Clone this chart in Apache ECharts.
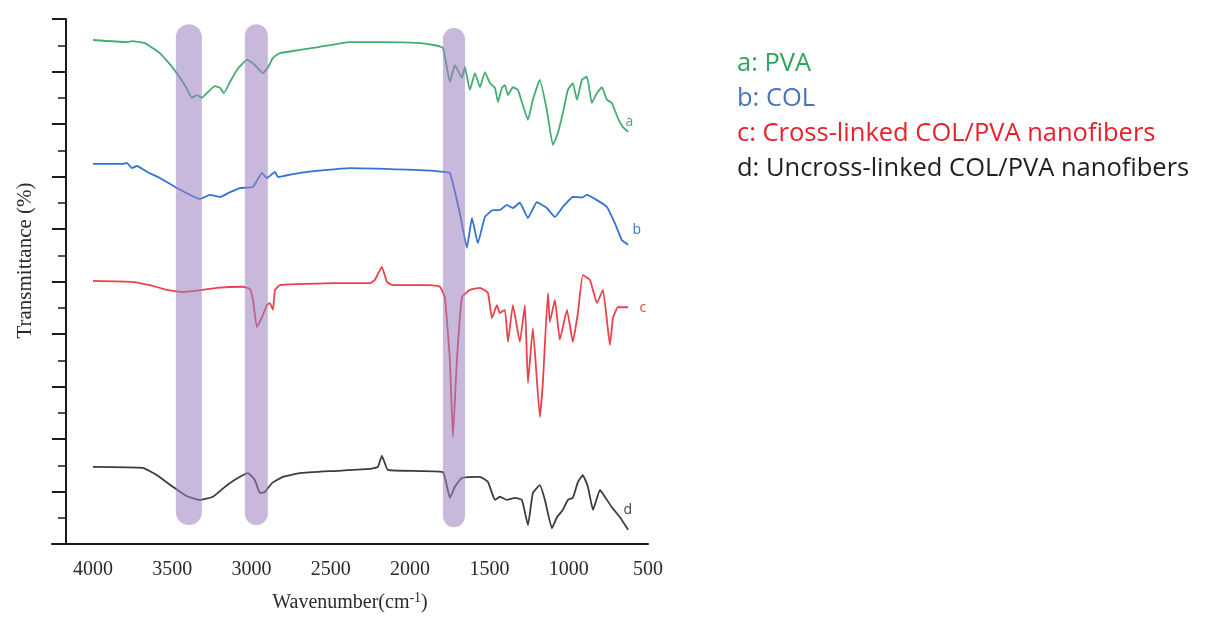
<!DOCTYPE html>
<html>
<head>
<meta charset="utf-8">
<script src="https://cdn.jsdelivr.net/npm/echarts@6/dist/echarts.min.js"></script>
<style>html,body{margin:0;padding:0;background:#fff;overflow:hidden;}#main{width:1218px;height:617px;}</style>
</head>
<body>
<div id="main"></div>
<script>
// ---- Data (wavenumber cm-1, transmittance offset in %) ----
const xTickLabels = [4000, 3500, 3000, 2500, 2000, 1500, 1000, 500];

const waveA = [4000,3786,3754,3672,3578,3496,3420,3376,3344,3313,3275,3231,3199,3174,3136,3092,3029,2991,2928,2897,2865,2821,2695,2569,2380,2190,1938,1844,1793,1749,1718,1673,1655,1623,1591,1560,1528,1497,1465,1446,1421,1402,1383,1352,1320,1257,1226,1182,1138,1100,1068,1037,1005,974,948,917,885,854,822,791,759,728,690,658,625];
const transA = [96.0,95.6,95.8,95.4,93.5,90.7,87.4,85.0,85.5,85.0,86.1,87.2,86.9,85.9,88.0,90.3,92.2,91.6,89.7,90.7,92.6,93.5,94.1,94.7,95.6,95.6,95.4,95.0,94.5,88.0,91.2,88.8,90.9,86.5,89.7,87.0,89.9,87.8,86.9,84.2,86.9,87.4,85.5,87.0,86.5,80.8,84.6,88.4,82.7,76.0,78.3,82.1,86.5,87.8,84.6,88.4,89.0,84.0,85.9,87.0,84.6,84.0,81.1,79.4,78.5];

const waveB = [4000,3811,3786,3754,3723,3660,3578,3470,3325,3262,3199,3136,3073,2991,2934,2903,2852,2834,2695,2380,1938,1793,1749,1686,1642,1610,1573,1528,1478,1434,1390,1352,1308,1257,1201,1138,1087,1037,974,917,885,822,759,709,665,625];
const transB = [72.4,72.4,72.6,71.6,72.0,70.9,69.7,67.8,65.7,66.5,66.1,67.0,67.8,68.0,70.7,69.7,70.9,69.9,70.7,71.6,71.2,70.9,70.7,63.0,56.4,62.1,57.3,62.3,63.6,63.6,64.6,64.0,65.0,62.1,65.1,64.0,62.3,64.2,66.1,66.0,66.5,65.5,64.2,61.1,57.9,57.0];

const waveC = [4000,3748,3641,3533,3433,3218,3054,3010,2991,2966,2934,2903,2884,2865,2852,2821,2695,2487,2253,2222,2178,2146,2108,1938,1875,1812,1781,1749,1730,1705,1673,1623,1560,1509,1484,1453,1434,1402,1383,1352,1308,1276,1257,1226,1182,1163,1131,1119,1087,1056,1011,974,942,911,866,822,784,740,721,690,625];
const transC = [50.1,49.9,49.3,48.4,48.0,48.8,49.0,48.6,46.5,41.3,43.2,45.5,45.9,44.6,48.4,49.3,49.5,49.7,49.7,50.3,52.8,49.9,49.3,49.3,49.3,49.0,47.0,35.0,20.4,35.0,47.0,48.4,48.8,47.8,43.0,45.5,44.0,44.6,38.5,45.5,38.5,45.5,30.7,41.1,24.2,30.7,47.8,42.3,46.5,38.9,44.6,38.5,44.0,51.2,50.3,45.9,48.4,37.9,43.0,45.1,45.1];

const waveD = [4000,3685,3596,3496,3407,3325,3243,3155,3073,3023,2979,2947,2916,2871,2802,2695,2487,2253,2203,2178,2140,1938,1793,1749,1718,1673,1560,1509,1465,1434,1390,1339,1295,1257,1226,1182,1150,1106,1074,1037,1005,974,942,911,879,847,803,772,728,677,625];
const transD = [14.7,14.5,13.1,10.9,9.1,8.4,9.0,11.2,12.8,13.5,12.2,9.7,9.9,11.6,12.8,13.5,13.9,14.3,14.7,16.8,14.1,13.9,13.7,8.8,10.9,12.6,12.8,11.8,8.4,9.0,8.4,8.8,8.4,3.6,9.7,11.2,8.4,3.0,5.1,6.5,8.4,8.8,11.8,13.1,10.9,6.5,10.3,9.0,7.0,5.1,2.7];

// Highlight bands: [high wavenumber, low wavenumber, top, bottom]
const bands = [
  [3477, 3313, 99.0, 3.6],
  [3042, 2897, 99.0, 3.6],
  [1793, 1654, 98.3, 3.2]
];

const seriesNames = ['a: PVA', 'b: COL', 'c: Cross-linked COL/PVA nanofibers', 'd: Uncross-linked COL/PVA nanofibers'];
const endTags = ['a', 'b', 'c', 'd'];
const lineColors = ['#45ad72', '#3472d4', '#e8424c', '#3c3c3c'];
const legendColors = ['#2fa45c', '#4d72b8', '#e8212b', '#1f1f1f'];

const zip = (w, t) => w.map((v, i) => [v, t[i]]);
const allData = [zip(waveA, transA), zip(waveB, transB), zip(waveC, transC), zip(waveD, transD)];
const tagOffsets = [[7, -10], [15, -15], [20, 1], [6, -20]];

const dom = document.getElementById('main');
const chart = echarts.init(dom, null, {renderer: 'canvas', width: 1218, height: 617});

const lineSeries = allData.map((d, i) => ({
  name: seriesNames[i],
  type: 'line',
  data: d,
  showSymbol: false,
  smooth: 0.12,
  lineStyle: {color: lineColors[i], width: 1.8},
  itemStyle: {color: lineColors[i]},
  z: 2,
  animation: false,
  endLabel: {
    show: true,
    formatter: endTags[i],
    color: lineColors[i],
    fontFamily: 'Open Sans',
    fontSize: 14,
    distance: 2,
    offset: tagOffsets[i]
  }
}));

const bandSeries = {
  type: 'custom',
  name: 'bands',
  data: bands,
  z: 5,
  animation: false,
  silent: true,
  renderItem: function (params, api) {
    const p1 = api.coord([api.value(0), api.value(2)]);
    const p2 = api.coord([api.value(1), api.value(3)]);
    const x = Math.min(p1[0], p2[0]);
    const y = Math.min(p1[1], p2[1]);
    const w = Math.abs(p2[0] - p1[0]);
    const h = Math.abs(p2[1] - p1[1]);
    return {
      type: 'rect',
      shape: {x: x, y: y, width: w, height: h, r: w / 2},
      style: {fill: 'rgba(155,125,190,0.55)'}
    };
  }
};

const legendText = seriesNames.map((n, i) => '{s' + i + '|' + n + '}').join('\n');
const rich = {};
legendColors.forEach((c, i) => {
  rich['s' + i] = {color: c, fontSize: 25.5, fontWeight: 'normal', fontFamily: 'Open Sans', lineHeight: 35};
});

chart.setOption({
  backgroundColor: '#ffffff',
  animation: false,
  title: {
    text: legendText,
    left: 737,
    top: 46,
    padding: 0,
    textStyle: {fontWeight: 'normal', rich: rich}
  },
  grid: {left: 52, width: 596, top: 19, height: 525, containLabel: false, outerBoundsMode: 'none'},
  xAxis: {
    type: 'value',
    inverse: true,
    min: 500,
    max: 4258,
    interval: 500,
    name: '{t|Wavenumber(cm}{u|-1}{t|)}',
    nameLocation: 'middle',
    nameGap: 47,
    nameTextStyle: {
      rich: {
        t: {fontFamily: 'Liberation Serif', fontSize: 20, color: '#2a2a2a'},
        u: {fontFamily: 'Liberation Serif', fontSize: 14, color: '#2a2a2a', padding: [0, 0, 10, 0]}
      }
    },
    axisLine: {show: true, lineStyle: {color: '#1a1a1a', width: 2}},
    axisTick: {show: false},
    splitLine: {show: false},
    axisLabel: {
      margin: 16,
      fontFamily: 'Liberation Serif',
      fontSize: 20,
      color: '#2a2a2a',
      showMinLabel: true,
      showMaxLabel: false,
      formatter: v => xTickLabels.indexOf(v) >= 0 ? String(v) : ''
    }
  },
  yAxis: {
    type: 'value',
    min: 0,
    max: 100,
    interval: 10,
    offset: -14,
    name: 'Transmittance (%)',
    nameLocation: 'middle',
    nameGap: 30,
    nameTextStyle: {fontFamily: 'Liberation Serif', fontSize: 21, color: '#2a2a2a', padding: [0, 0, 0, 42]},
    axisLine: {show: true, lineStyle: {color: '#1a1a1a', width: 2}},
    axisTick: {show: true, inside: false, length: 14, lineStyle: {color: '#1a1a1a', width: 2}},
    minorTick: {show: true, splitNumber: 2, length: 8, lineStyle: {color: '#1a1a1a', width: 1.5}},
    splitLine: {show: false},
    minorSplitLine: {show: false},
    axisLabel: {show: false}
  },
  series: lineSeries.concat([bandSeries])
});
</script>
</body>
</html>
